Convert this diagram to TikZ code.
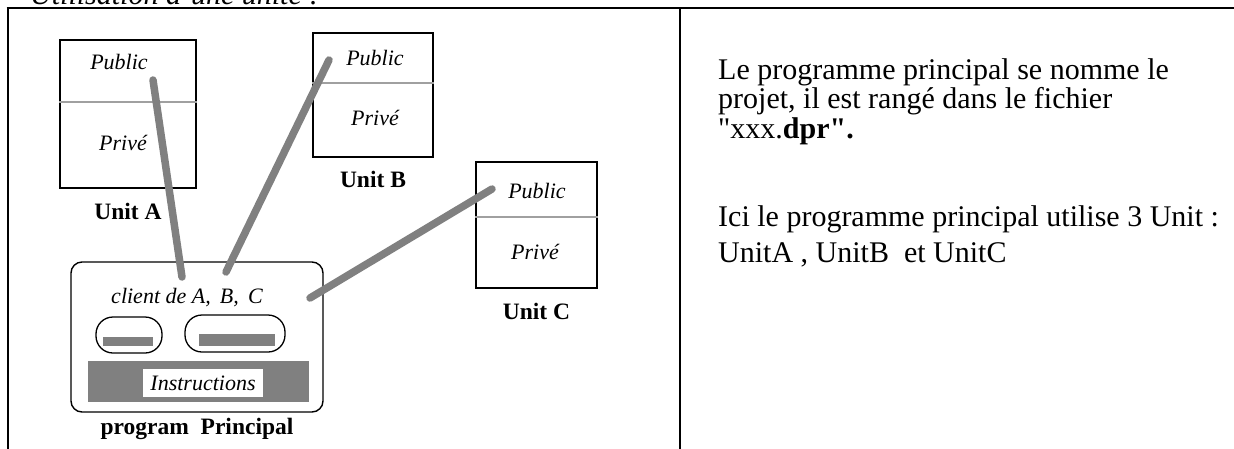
\documentclass[tikz,border=0pt]{standalone}
\usepackage{fontspec}
\setmainfont{Liberation Serif}
\newfontfamily\plainserif{Liberation Serif}
\usetikzlibrary{calc,positioning}
\definecolor{linkGray}{HTML}{808080}
\definecolor{splitGray}{HTML}{A0A0A0}
\tikzset{
  table rule/.style={
    draw=black,
    line width=2.8pt
  },
  unit box/.style={
    draw=black,
    fill=white,
    line width=1.4pt,
    inner sep=0pt
  },
  split rule/.style={
    draw=splitGray,
    line width=1.2pt
  },
  part text/.style={
    font=\fontsize{22}{22}\selectfont\itshape,
    inner sep=0pt
  },
  unit label/.style={
    font=\fontsize{23.5}{23.5}\selectfont\bfseries,
    inner sep=0pt
  },
  program box/.style={
    draw=black,
    line width=1.4pt,
    rounded corners=11pt,
    inner sep=0pt
  },
  pill/.style={
    draw=black,
    line width=1.3pt,
    rounded corners=17pt,
    inner sep=0pt
  },
  gray bar/.style={
    fill=linkGray,
    inner sep=0pt
  },
  link edge/.style={
    draw=linkGray,
    line width=7.5pt,
    line cap=round
  },
  note text/.style={
    font=\fontsize{30}{27.5}\selectfont,
    align=left,
    inner sep=0pt
  }
}

\begin{document}
\begin{tikzpicture}[x=1pt,y=-1pt]
  \useasboundingbox (0,0) rectangle (1234,448);
  \fill[white] (0,0) rectangle (1234,448);
  \clip (0,0) rectangle (1234,448);

  % title cut at the top of the page
  \node[font=\fontsize{30}{30}\selectfont\itshape,inner sep=0pt,anchor=base west]
    (caption) at (30,4.5) {Utilisation d'une unité :};

  % table frame
  \draw[table rule] (6.6,8) -- (1240,8);
  \draw[table rule] (8,8) -- (8,460);
  \draw[table rule] (680,8) -- (680,460);

  % units
  \node[unit box,minimum width=136pt,minimum height=148pt] (unitA) at (128,114) {};
  \draw[split rule] (unitA.west |- 0,102) -- (unitA.east |- 0,102);
  \node[part text] (pubA) at (119,62) {Public};
  \node[part text] (privA) at (123,143) {Privé};
  \node[unit label,below=14pt of unitA] (labelA) {Unit A};

  \node[unit box,minimum width=120pt,minimum height=124pt] (unitB) at (373,95) {};
  \draw[split rule] (unitB.west |- 0,83) -- (unitB.east |- 0,83);
  \node[part text] (pubB) at (375,58) {Public};
  \node[part text] (privB) at (375,118) {Privé};
  \node[unit label,below=13pt of unitB] (labelB) {Unit B};

  \node[unit box,minimum width=121pt,minimum height=126pt] (unitC) at (536.5,225) {};
  \draw[split rule] (unitC.west |- 0,217) -- (unitC.east |- 0,217);
  \node[part text] (pubC) at (537,191) {Public};
  \node[part text] (privC) at (535,252) {Privé};
  \node[unit label,below=14pt of unitC] (labelC) {Unit C};

  % main program
  \node[program box,minimum width=252pt,minimum height=150pt] (prog) at (197,337) {};
  \node[part text] (client) at (187,298) {client de A,\, B,\, C};
  \node[pill,minimum width=66pt,minimum height=36pt] (pillA) at (129,335) {};
  \node[gray bar,minimum width=50pt,minimum height=9pt] (barA) at (128,341.5) {};
  \node[pill,minimum width=100pt,minimum height=37pt] (pillB) at (235,333.5) {};
  \node[gray bar,minimum width=76pt,minimum height=12pt] (barB) at (237,340) {};
  \node[gray bar,minimum width=221pt,minimum height=41pt] (instrBack) at (198.5,381.5) {};
  \node[part text,fill=white,minimum width=120pt,minimum height=28pt] (instr) at (203,383) {Instructions};
  \node[unit label,below=5pt of prog] (labelProg) {program\ \ Principal};

  % link ends
  \coordinate (endA) at (153,80);
  \coordinate (endB) at (329,60);
  \coordinate (endC) at (492,189);
  \coordinate (useA) at (182,277);
  \coordinate (useB) at (226,272);
  \coordinate (useC) at (310,298);
  \draw[link edge] (endA) -- (useA);
  \draw[link edge] (endB) -- (useB);
  \draw[link edge] (endC) -- (useC);

  % explanation
  \node[note text,anchor=base west] (note) at (718,262) {
    Le programme principal se nomme le\\
    projet, il est rangé dans le fichier\\[2pt]
    {\plainserif"}xxx.\textbf{dpr{\plainserif"}.}\\[60.5pt]
    Ici le programme principal utilise 3 Unit :\\[8.5pt]
    UnitA , UnitB~ et UnitC
  };
\end{tikzpicture}
\end{document}
